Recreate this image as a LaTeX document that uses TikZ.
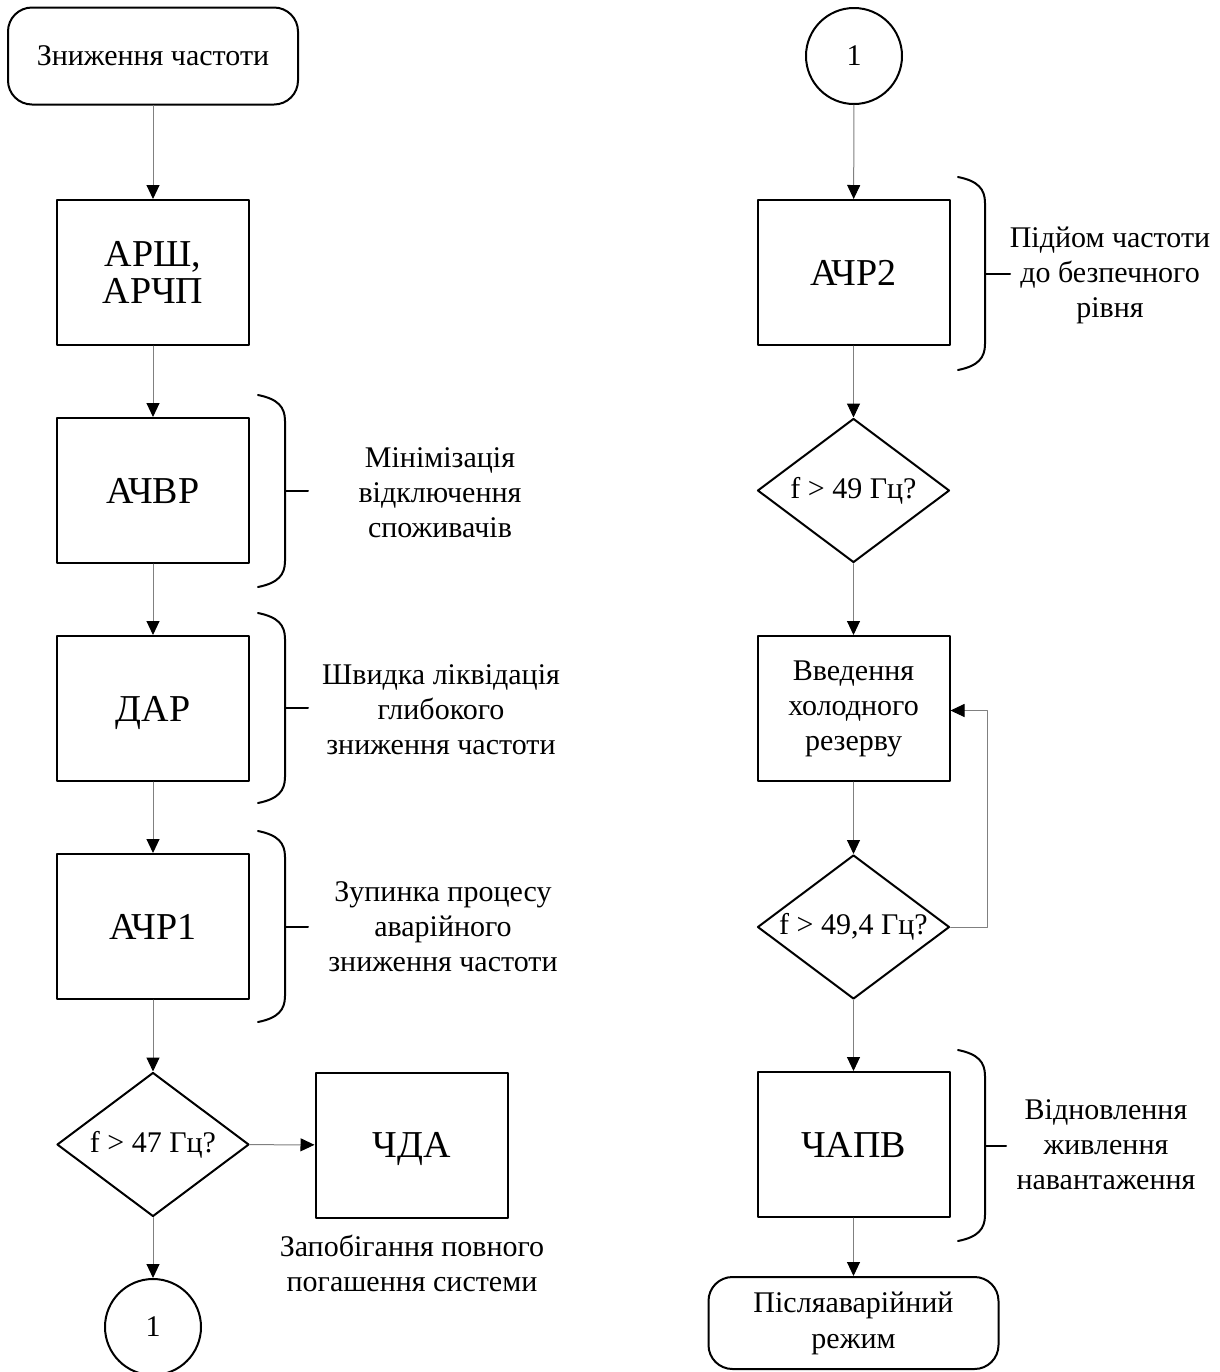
\documentclass[tikz,border=0pt]{standalone}
\usepackage{fontspec}
\setmainfont{Liberation Serif}
\usetikzlibrary{arrows.meta}
\usetikzlibrary{shapes.geometric}

\tikzset{
  block/.style={draw, line width=1pt, minimum width=96pt, minimum height=72.5pt, inner sep=0pt, text depth=0pt, align=center, font=\fontsize{19}{18.5}\selectfont},
  smallblock/.style={block, text depth=, font=\fontsize{15}{17.5}\selectfont},
  terminal/.style={draw, line width=1pt, rounded corners=12pt, minimum width=145pt, inner sep=0pt, align=center, font=\fontsize{15}{18}\selectfont},
  decision/.style={draw, diamond, aspect=1.4, line width=1pt, minimum width=96pt, minimum height=72pt, inner sep=0pt, font=\fontsize{15}{17.5}\selectfont},
  connector/.style={draw, circle, line width=1pt, minimum size=48pt, inner sep=0pt, font=\fontsize{15}{17.5}\selectfont},
  note/.style={align=center, font=\fontsize{15}{17.5}\selectfont},
  flow/.style={draw=gray, line width=0.5pt, -{Triangle[black, width=6.5pt, length=7pt]}}
}

\begin{document}
\begin{tikzpicture}[line cap=round,line join=round,x=0.5pt,y=-0.5pt]
\useasboundingbox (0,0) rectangle (1220,1372);

%lewa kolonka
\node [terminal, minimum height=48.5pt] (start) at (153,56) {Зниження частоти};
\node [block] (arsh) at (153,272.5) {АРШ,\\АРЧП};
\node [block] (achvr) at (153,490.5) {АЧВР};
\node [block] (dar) at (153,708.5) {ДАР};
\node [block] (achr1) at (153,926.5) {АЧР1};
\node [decision] (dec47) at (153,1144.5) {f > 47 Гц?};
\node [block] (chda) at (411.5,1145) {ЧДА};
\node [connector] (conL) at (153,1327) {1};

%prava kolonka
\node [connector] (conR) at (854,56) {1};
\node [block] (achr2) at (853.5,272.5) {АЧР2};
\node [decision] (dec49) at (853.5,490.5) {f > 49 Гц?};
\node [smallblock] (reserve) at (853.5,708.5) {Введення\\холодного\\резерву};
\node [decision] (dec494) at (853.5,927) {f > 49,4 Гц?};
\node [block] (chapv) at (853.5,1144.5) {ЧАПВ};
\node [terminal, minimum height=46pt] (post) at (853.5,1323) {Післяаварійний\\режим};

%strilky
\draw [flow] (start) -- (arsh);
\draw [flow] (arsh) -- (achvr);
\draw [flow] (achvr) -- (dar);
\draw [flow] (dar) -- (achr1);
\draw [flow] (achr1) -- (dec47);
\draw [flow] (dec47) -- (chda);
\draw [flow] (dec47) -- (conL);
\draw [flow] (conR) -- (achr2);
\draw [flow] (achr2) -- (dec49);
\draw [flow] (dec49) -- (reserve);
\draw [flow] (reserve) -- (dec494);
\coordinate (loop) at (987,927);
\draw [flow] (dec494.east) -- (loop) |- ([yshift=-1pt]reserve.east);
\draw [flow] (dec494) -- (chapv);
\draw [flow] (chapv) -- (post);

%duzhky
\foreach \x/\ya/\yb/\t in {258/395/587/308, 258/613/803/308, 258/831/1022/308, 958/177/370/1010, 958/1050/1241/1006}
{
\draw [line width=1pt] (\x,\ya) .. controls (\x+20,\ya+4) and (\x+27,\ya+12) .. (\x+27,\ya+26)
  -- (\x+27,\yb-26) .. controls (\x+27,\yb-12) and (\x+20,\yb-4) .. (\x,\yb);
\draw [line width=1pt] (\x+27,{(\ya+\yb)/2}) -- (\t,{(\ya+\yb)/2});
}

%pidpysy
\node [note] (n1) at (440,493) {Мінімізація\\відключення\\споживачів};
\node [note] (n2) at (441,710) {Швидка ліквідація\\глибокого\\зниження частоти};
\node [note] (n3) at (443,927) {Зупинка процесу\\аварійного\\зниження частоти};
\node [note] (n4) at (412,1263) {Запобігання повного\\погашення системи};
\node [note] (n5) at (1110,275) {Підйом частоти\\до безпечного\\рівня};
\node [note] (n6) at (1106,1145) {Відновлення\\живлення\\навантаження};
\end{tikzpicture}
\end{document}
